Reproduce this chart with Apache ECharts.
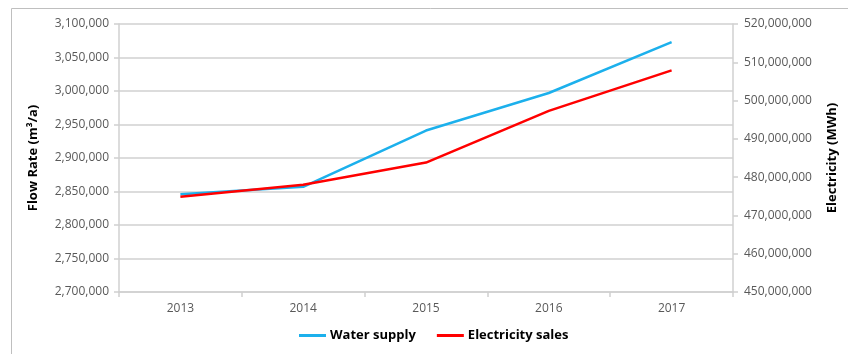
<!DOCTYPE html>
<html>
<head>
<meta charset="utf-8">
<script src="https://cdn.jsdelivr.net/npm/echarts@6/dist/echarts.min.js"></script>
<style>
  html, body { margin: 0; padding: 0; background: #ffffff; }
  #chart { width: 848px; height: 354px; }
</style>
</head>
<body>
<div id="chart"></div>
<script>
// Annual water supply (m³/a) and electricity sales (MWh), 2013–2017
const years = ['2013', '2014', '2015', '2016', '2017'];
const waterSupply = [2846000, 2857000, 2941000, 2997000, 3073000];
const electricitySales = [474900000, 478000000, 483800000, 497300000, 507900000];

const leftMin = 2700000, leftMax = 3100000, leftStep = 50000;
const rightMin = 450000000, rightMax = 520000000, rightStep = 10000000;

const fontFamily = '"Open Sans", "Liberation Sans", sans-serif';
const axisGray = '#d0d0d0';
const labelColor = '#595959';

const fmt = v => v.toLocaleString('en-US');

const chart = echarts.init(document.getElementById('chart'), null, { renderer: 'canvas' });

chart.setOption({
  animation: false,
  backgroundColor: '#ffffff',
  graphic: [{
    type: 'rect',
    shape: { x: 11.5, y: 8.5, width: 850, height: 360 },
    style: { fill: 'none', stroke: '#bfbfbf', lineWidth: 1 },
    silent: true
  }],
  grid: { left: 119, right: 115, top: 24, bottom: 62 },
  legend: {
    bottom: 7,
    left: 294,
    itemWidth: 27,
    itemHeight: 3,
    itemGap: 21,
    icon: 'rect',
    textStyle: { fontFamily, fontSize: 13, fontWeight: 'bold', color: '#000000', padding: [0, 0, 0, -1] },
    data: ['Water supply', 'Electricity sales']
  },
  xAxis: {
    type: 'category',
    data: years,
    boundaryGap: true,
    axisLine: { lineStyle: { color: axisGray, width: 1.5 } },
    axisTick: { show: true, alignWithLabel: false, length: 5, lineStyle: { color: axisGray, width: 1.5 } },
    axisLabel: { fontFamily, fontSize: 12, color: labelColor, margin: 11 }
  },
  yAxis: [{
    type: 'value',
    min: leftMin, max: leftMax, interval: leftStep,
    name: 'Flow Rate (m³/a)',
    nameLocation: 'middle',
    nameRotate: 90,
    nameGap: 79,
    nameTextStyle: { fontFamily, fontSize: 13, fontWeight: 'bold', color: '#000000' },
    axisLine: { show: true, lineStyle: { color: axisGray, width: 1.5 } },
    axisTick: { show: true, length: 5, lineStyle: { color: axisGray, width: 1.5 } },
    axisLabel: { fontFamily, fontSize: 12, color: labelColor, margin: 10, formatter: fmt },
    splitLine: { show: true, lineStyle: { color: axisGray, width: 1.5 } }
  }, {
    type: 'value',
    position: 'right',
    min: rightMin, max: rightMax, interval: rightStep,
    name: 'Electricity (MWh)',
    nameLocation: 'middle',
    nameRotate: 90,
    nameGap: 93,
    nameTextStyle: { fontFamily, fontSize: 13, fontWeight: 'bold', color: '#000000' },
    axisLine: { show: true, lineStyle: { color: axisGray, width: 1.5 } },
    axisTick: { show: true, length: 5, lineStyle: { color: axisGray, width: 1.5 } },
    axisLabel: { fontFamily, fontSize: 12, color: labelColor, margin: 11, formatter: fmt },
    splitLine: { show: false }
  }],
  series: [{
    name: 'Water supply',
    type: 'line',
    yAxisIndex: 0,
    data: waterSupply,
    symbol: 'none',
    lineStyle: { color: '#1cb0ec', width: 2.5 },
    itemStyle: { color: '#1cb0ec' }
  }, {
    name: 'Electricity sales',
    type: 'line',
    yAxisIndex: 1,
    data: electricitySales,
    symbol: 'none',
    lineStyle: { color: '#ff0000', width: 2.5 },
    itemStyle: { color: '#ff0000' }
  }]
});
</script>
</body>
</html>
